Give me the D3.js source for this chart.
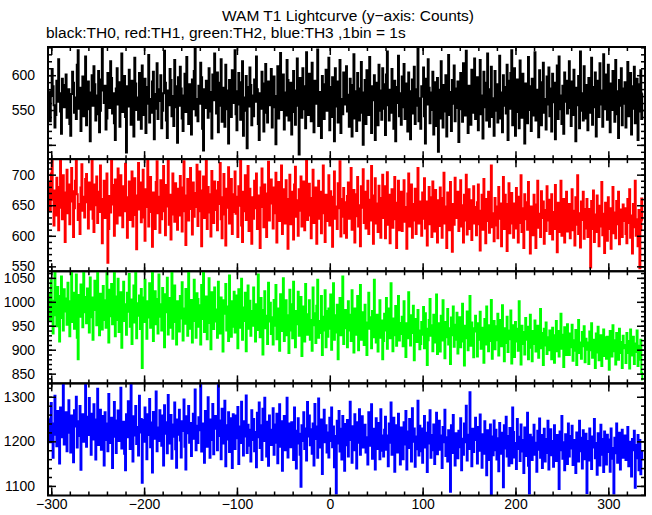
<!DOCTYPE html>
<html>
<head>
<meta charset="utf-8">
<script src="https://cdn.jsdelivr.net/npm/d3@7"></script>
<style>
html,body{margin:0;padding:0;background:#fff;}
svg{display:block;font-family:"Liberation Sans",Arial,Helvetica,sans-serif;}
</style>
</head>
<body>
<svg id="chart" width="652" height="515"></svg>
<script>
// ---- data ----
const titleText = "WAM T1 Lightcurve (y\u2212axis: Counts)";
const subtitleText = "black:TH0, red:TH1, green:TH2, blue:TH3 ,1bin = 1s";
const tStart = -302; // time of first 1 s bin
const xTicks = [-300, -200, -100, 0, 100, 200, 300];

const th0 = [
577,534,570,609,584,557,525,543,592,562,623,574,548,516,595,567,554,586,601,539,
559,580,530,513,573,605,589,546,568,537,615,636,552,582,520,563,598,541,576,627,
528,566,591,551,505,575,600,556,613,587,535,571,544,606,518,549,594,640,578,560,
585,522,538,603,569,553,620,596,545,574,531,507,581,610,558,590,526,567,631,547,
572,599,540,489,584,555,608,579,529,592,561,512,625,588,550,568,536,603,564,523,
614,576,543,595,517,559,583,629,532,566,546,591,605,508,573,552,617,537,580,563,
600,524,549,574,635,589,535,510,578,557,609,593,541,570,527,622,554,584,503,597,
556,612,581,538,520,571,602,547,626,562,530,587,575,515,594,551,606,639,542,566,
534,585,559,618,597,523,492,580,553,592,569,539,610,548,576,509,601,564,631,573,
545,604,518,556,589,623,533,567,582,526,615,578,551,502,593,572,540,607,560,596,
636,544,521,577,603,558,536,590,620,513,568,549,599,495,583,555,611,586,528,571,
541,594,562,627,580,530,507,574,552,605,588,519,566,616,546,532,591,572,557,609,
525,582,598,554,501,570,613,538,585,632,550,560,601,522,575,542,622,593,535,567,
589,515,547,606,578,529,568,624,556,486,596,573,539,610,551,584,524,633,563,543,
602,571,534,618,545,518,592,559,581,637,527,576,553,510,599,587,537,569,608,549,
562,625,521,583,540,597,574,505,610,555,591,532,579,622,517,566,544,604,558,590,
613,548,572,526,595,561,512,586,630,538,577,520,603,556,535,581,619,546,500,575,
593,530,607,568,543,626,553,517,584,564,600,507,589,573,528,615,549,578,536,610,
552,587,514,601,634,557,535,579,546,609,570,523,592,505,583,560,628,541,574,529,
598,554,616,537,562,588,519,604,577,508,571,594,545,612,530,580,556,638,534,567,
523,584,569,611,541,502,595,558,623,582,531,575,550,605,515,590,563,527,596,490,
579,538,620,573,525,586,548,600,512,568,629,543,576,520,593,559,614,534,581,553,
591,504,574,603,551,533,617,578,542,635,561,517,585,566,529,608,572,546,624,537,
557,597,521,582,622,544,571,509,605,554,589,535,631,562,526,580,612,540,567,513,
606,549,587,532,570,628,538,575,518,600,556,583,545,615,507,592,552,603,636,528,
564,610,513,577,594,547,524,621,569,539,602,559,502,588,574,531,626,550,584,520,
595,542,573,633,535,579,555,511,607,568,528,590,618,546,566,522,598,558,611,541,
581,519,602,561,589,508,576,614,537,627,551,571,530,585,516,604,562,592,545,572,
620,553,527,591,543,608,567,505,582,557,599,524,634,549,574,535,613,560,538,586,
521,596,572,546,625,529,583,554,604,512,569,592,540,617,558,578,526,630,551,568,
601,536,615,562,518,588,550,606,573,533,622,544,577,510,593,556,610,528,581,559,
590,525,578,619,541,563,603,515,584,552,612,531,571,595,507,587,548,607,537,574];

const th1 = [
688,641,702,725,659,617,674,633,695,651,609,680,725,646,627,699,662,590,671,708,
637,684,619,656,711,673,598,645,690,725,668,626,652,603,679,717,641,664,630,693,
701,655,612,687,643,669,725,628,606,684,650,697,621,672,639,715,660,588,646,690,
629,676,702,556,611,665,638,725,683,651,600,692,645,620,710,671,633,699,657,614,
681,640,718,663,597,648,689,626,672,705,615,655,694,634,578,666,719,643,687,622,
669,708,630,592,676,647,725,615,660,696,639,582,671,653,611,688,722,637,664,605,
691,627,659,714,640,601,683,648,725,618,667,594,635,702,656,623,686,649,610,677,
633,698,661,607,679,722,640,585,666,693,625,658,711,644,602,687,631,670,647,716,
616,662,705,640,583,674,697,629,655,725,611,680,638,668,599,706,650,621,689,642,
674,609,688,652,719,627,596,663,701,635,584,677,646,712,620,657,693,603,668,639,
705,636,664,598,681,649,725,617,590,672,640,699,626,655,714,608,677,641,587,663,
628,690,645,702,611,666,632,580,679,710,647,614,684,639,598,669,721,625,653,692,
661,612,679,637,703,589,650,688,624,667,715,603,644,676,620,691,634,579,660,700,
619,672,644,594,684,713,631,658,600,676,641,697,615,652,689,609,668,725,626,647,
685,633,596,662,708,621,650,679,587,643,690,628,672,604,656,715,637,590,667,624,
651,699,617,673,636,582,664,705,628,648,611,686,645,722,599,660,631,678,604,655,
597,665,687,628,654,711,610,642,675,589,668,632,696,615,650,583,681,646,709,621,
672,612,648,690,603,659,625,714,640,587,666,694,620,653,606,682,636,597,662,700,
629,681,596,650,704,618,667,588,641,676,613,659,696,627,580,654,690,609,645,672,
608,660,691,623,647,579,669,702,615,638,684,597,652,625,677,603,641,711,620,656,
645,600,671,628,694,612,656,584,637,680,619,663,598,689,641,607,675,630,589,658,
616,679,641,597,662,703,620,648,580,671,633,609,688,645,574,652,618,695,629,664,
672,608,637,691,615,650,589,667,625,700,602,645,676,611,658,593,634,681,620,647,
601,655,684,619,576,641,667,610,693,632,588,660,624,672,605,649,715,614,637,591,
662,617,648,596,680,628,653,583,640,696,611,667,629,575,652,686,604,639,670,620,
597,653,612,678,633,589,664,621,699,606,645,580,668,627,655,610,688,634,571,648,
640,601,667,622,580,651,690,613,636,598,673,629,656,587,642,608,681,625,659,603,
617,668,594,639,611,683,628,573,654,606,645,690,600,632,660,589,624,672,607,641,
652,596,630,676,609,641,584,663,618,699,603,637,581,656,626,672,595,644,612,660,
598,644,622,548,657,611,674,590,635,606,666,625,583,649,615,688,601,636,572,654,
629,592,663,611,645,579,622,680,604,638,596,657,619,672,586,643,610,598,651,624,
645,603,588,660,621,676,597,633,571,652,614,690,600,627,583,642,547,609,661,625];

const th2 = [
1018,961,1045,987,934,1002,1064,972,949,1031,995,917,1012,1053,966,940,1026,980,1007,952,
1040,973,928,1001,1064,958,1019,944,990,1057,925,880,1014,969,1036,993,947,1062,978,1010,
955,1028,997,936,1051,968,1009,921,983,1044,1006,951,1064,975,930,1017,989,942,1033,962,
1003,946,1060,984,915,1025,970,1037,953,999,1064,928,1011,962,1048,937,990,1020,904,973,
1042,960,995,931,1019,979,1058,948,1005,912,986,1034,957,1064,924,997,971,1013,943,1027,
862,1009,958,1046,983,923,1001,967,1039,946,991,1064,918,975,1022,953,1006,934,1057,969,
995,940,1029,961,905,1016,978,1050,932,989,1008,946,1064,923,970,1034,958,911,1001,976,
938,1012,965,1041,919,986,954,1027,997,929,1060,972,944,1004,915,983,1046,960,925,1018,
1006,948,993,911,1035,964,1064,937,979,1011,922,988,1049,956,901,1020,970,943,1030,959,
984,925,1042,967,934,1009,951,896,1003,975,1037,940,990,918,1055,962,927,1001,948,1021,
936,1013,958,903,1026,979,946,1048,921,988,960,1019,897,968,1034,944,1002,929,981,950,
1030,962,917,995,941,1057,973,926,1008,954,890,983,1022,945,971,912,1040,959,998,933,
968,911,1004,950,1035,922,986,961,898,1016,939,975,1049,918,957,1003,930,972,893,1025,
940,995,924,1042,967,905,981,953,1021,929,964,1010,887,946,990,917,1037,958,931,974,
1003,921,962,898,1030,951,976,914,992,1046,925,960,935,1012,889,969,940,1024,905,981,
927,986,944,1015,900,958,1039,921,972,936,994,880,951,1008,930,967,1053,912,945,983,
962,905,1001,940,973,918,1024,955,894,986,931,963,1012,899,947,1035,921,958,978,910,
994,931,889,957,1019,944,968,903,981,926,1046,949,915,973,896,937,1003,925,961,880,
918,975,940,1008,902,951,986,924,1039,958,897,965,930,991,908,947,1012,919,956,933,
969,907,1001,938,885,955,924,1020,949,909,972,935,992,878,944,964,916,983,940,901,
912,958,931,989,903,976,944,868,920,962,1006,929,951,897,973,915,940,1015,891,955,
947,896,971,919,1003,934,882,958,926,985,911,945,870,967,930,990,906,952,921,977,
892,941,968,905,932,996,917,867,950,924,980,899,936,1012,908,957,926,884,945,971,
938,886,955,921,979,902,946,925,873,964,911,990,930,897,951,918,1004,881,935,960,
901,949,920,975,888,936,962,907,993,928,876,945,914,969,895,940,922,982,871,951,
930,885,958,917,944,898,1001,925,869,950,912,937,890,966,921,948,880,917,973,904,
876,939,912,961,896,927,950,883,918,985,903,935,868,944,909,957,891,926,899,940,
922,880,946,908,873,930,960,897,939,886,916,975,902,931,864,947,912,889,953,918,
889,934,905,952,877,920,898,941,868,926,962,893,915,881,937,907,949,874,923,900,
915,870,938,899,955,883,921,907,862,934,894,948,878,911,930,866,906,942,887,926,
881,927,900,858,939,912,886,951,897,920,869,935,908,879,944,893,916,862,929,903,
910,872,935,893,918,861,942,888,904,927,870,913,895,940,866,908,879,921,852,838];

const th3 = [
1251,1198,1286,1227,1163,1240,1302,1215,1189,1268,1234,1150,1276,1209,1247,1330,1193,1224,1265,1178,
1219,1292,1241,1175,1258,1207,1153,1270,1233,1300,1186,1245,1212,1279,1136,1228,1261,1199,1243,1330,
1188,1255,1214,1297,1236,1170,1262,1204,1283,1225,1159,1249,1318,1192,1230,1271,1181,1216,1257,1146,
1265,1203,1240,1178,1306,1231,1196,1253,1140,1222,1288,1210,1174,1247,1269,1201,1235,1320,1184,1218,
1244,1172,1135,1261,1209,1290,1227,1183,1330,1238,1155,1256,1213,1279,1194,1232,1168,1302,1220,1250,
1107,1248,1199,1276,1228,1160,1261,1214,1295,1187,1242,1130,1266,1206,1253,1312,1178,1231,1201,1270,
1233,1190,1258,1146,1281,1217,1243,1173,1304,1226,1195,1259,1161,1238,1210,1287,1182,1141,1249,1215,
1271,1202,1164,1245,1223,1294,1188,1137,1256,1218,1279,1197,1241,1167,1230,1262,1206,1316,1180,1235,
1196,1254,1225,1330,1177,1240,1209,1152,1268,1221,1188,1299,1235,1163,1249,1203,1284,1171,1228,1257,
1239,1180,1328,1212,1247,1160,1273,1229,1195,1291,1144,1236,1204,1265,1176,1252,1218,1140,1261,1199,
1183,1258,1207,1277,1149,1233,1196,1289,1219,1168,1245,1211,1303,1174,1237,1190,1226,1155,1270,1203,
1250,1178,1221,1142,1264,1209,1287,1185,1236,1158,1273,1201,1298,1227,1166,1244,1145,1258,1215,1192,
1226,1274,1170,1238,1197,1262,1151,1220,1283,1188,1245,1134,1209,1257,1180,1231,1298,1164,1240,1203,
1187,1243,1212,1158,1276,1224,1139,1195,1252,1217,1170,1098,1236,1201,1265,1183,1229,1157,1288,1211,
1258,1191,1227,1172,1240,1146,1284,1205,1233,1163,1296,1218,1186,1249,1127,1215,1271,1198,1236,1175,
1220,1164,1253,1201,1276,1187,1233,1142,1212,1083,1246,1195,1268,1177,1228,1159,1257,1206,1134,1239,
1191,1248,1166,1225,1289,1203,1152,1234,1180,1261,1214,1139,1243,1197,1272,1170,1222,1256,1186,1210,
1237,1175,1209,1148,1265,1219,1190,1283,1161,1228,1204,1137,1252,1183,1241,1196,1160,1272,1213,1179,
1166,1226,1255,1181,1213,1144,1240,1197,1287,1170,1218,1253,1132,1204,1236,1175,1262,1191,1148,1231,
1210,1160,1243,1193,1268,1137,1222,1185,1250,1206,1155,1274,1199,1229,1143,1211,1182,1291,1168,1235,
1178,1229,1152,1207,1257,1186,1219,1131,1242,1195,1270,1163,1214,1180,1238,1149,1202,1264,1171,1221,
1246,1181,1213,1140,1232,1198,1271,1167,1209,1155,1225,1190,1087,1236,1174,1259,1203,1146,1218,1185,
1162,1224,1187,1252,1135,1206,1170,1240,1198,1280,1157,1215,1183,1310,1192,1144,1228,1176,1209,1253,
1203,1150,1232,1179,1260,1193,1141,1216,1172,1245,1187,1124,1225,1200,1158,1238,1081,1211,1169,1247,
1180,1226,1159,1207,1133,1241,1194,1172,1219,1097,1236,1184,1255,1166,1212,1145,1230,1190,1151,1276,
1221,1164,1196,1138,1250,1183,1210,1156,1238,1177,1203,1129,1231,1192,1167,1264,1145,1083,1215,1186,
1158,1209,1237,1170,1197,1132,1224,1181,1251,1163,1214,1140,1190,1228,1155,1205,1174,1246,1137,1199,
1227,1169,1201,1143,1236,1188,1156,1214,1175,1093,1222,1180,1257,1161,1198,1135,1216,1186,1149,1240,
1166,1212,1184,1235,1147,1203,1171,1129,1220,1192,1155,1246,1178,1208,1139,1225,1160,1199,1217,1084,
1201,1157,1229,1174,1138,1211,1186,1250,1162,1196,1125,1218,1183,1146,1237,1170,1205,1131,1222,1189,
1148,1215,1176,1204,1132,1229,1185,1161,1083,1208,1173,1240,1152,1196,1219,1137,1183,1226,1163,1200,
1213,1158,1187,1232,1144,1199,1170,1121,1205,1180,1224,1096,1192,1162,1214,1135,1203,1126,1178,1160];

const seriesList = [th0, th1, th2, th3];
const seriesColors = ["#000000", "#ff0000", "#00ff00", "#0000ff"];
const yDomains = [[479.5, 640.5], [542, 725.4], [829.7, 1063.8], [1078.5, 1330]];
const yMajor = [[500, 550, 600], [550, 600, 650, 700], [850, 900, 950, 1000, 1050], [1100, 1200, 1300]];
const yLabels = [[550, 600], [550, 600, 650, 700], [850, 900, 950, 1000, 1050], [1100, 1200, 1300]];
const yMinorStep = [10, 10, 10, 20];

// ---- layout ----
const svg = d3.select("#chart");
const pLeft = 48, pRight = 645, pTop = 47, pBottom = 495.5;
const ph = (pBottom - pTop) / 4;
const x = d3.scaleLinear().domain([-303.5, 339.5]).range([pLeft, pRight]);
const xMinor = d3.range(-300, 340, 20);
const font = 14;

svg.append("text").attr("x", 348).attr("y", 21).attr("text-anchor", "middle")
  .attr("font-size", 15.5).text(titleText);
svg.append("text").attr("x", 46).attr("y", 37.5).attr("text-anchor", "start")
  .attr("font-size", 15.5).text(subtitleText);

const defs = svg.append("defs");

seriesList.forEach((data, i) => {
  const y0 = pTop + i * ph, y1 = y0 + ph;
  const y = d3.scaleLinear().domain(yDomains[i]).range([y1, y0]);
  const g = svg.append("g");
  const cid = "clip" + i;
  defs.append("clipPath").attr("id", cid)
    .append("rect").attr("x", pLeft).attr("y", y0).attr("width", pRight - pLeft).attr("height", ph);

  const line = d3.line().x((d, k) => x(tStart + k)).y(d => y(d)).curve(d3.curveStep);
  g.append("path").datum(data).attr("d", line).attr("fill", "none")
    .attr("stroke", seriesColors[i]).attr("stroke-width", 2).attr("clip-path", `url(#${cid})`);

  const minors = d3.range(Math.ceil(yDomains[i][0] / yMinorStep[i]) * yMinorStep[i], yDomains[i][1], yMinorStep[i]);
  const fmt = d => yLabels[i].includes(d) ? String(d) : "";
  const la = g.append("g").attr("transform", `translate(${pLeft},0)`);
  la.call(d3.axisLeft(y).tickValues(minors).tickSize(-4).tickFormat(""));
  la.append("g").call(d3.axisLeft(y).tickValues(yMajor[i]).tickSize(-8).tickPadding(13).tickFormat(fmt));
  const ra = g.append("g").attr("transform", `translate(${pRight},0)`);
  ra.call(d3.axisRight(y).tickValues(minors).tickSize(-4).tickFormat(""));
  ra.append("g").call(d3.axisRight(y).tickValues(yMajor[i]).tickSize(-8).tickFormat(""));
  const ta = g.append("g").attr("transform", `translate(0,${y0})`);
  ta.call(d3.axisTop(x).tickValues(xMinor).tickSize(-4).tickFormat(""));
  ta.append("g").call(d3.axisTop(x).tickValues(xTicks).tickSize(-8).tickFormat(""));
  const ba = g.append("g").attr("transform", `translate(0,${y1})`);
  ba.call(d3.axisBottom(x).tickValues(xMinor).tickSize(-4).tickFormat(""));
  ba.append("g").call(d3.axisBottom(x).tickValues(xTicks).tickSize(-8).tickPadding(4)
    .tickFormat(i === 3 ? (d => String(d).replace("-", "\u2212")) : ""));

  g.selectAll(".domain").remove();
  g.selectAll(".tick line").attr("stroke", "#000").attr("stroke-width", 1.5);
  g.selectAll(".tick text").attr("font-size", font).attr("fill", "#000")
    .attr("font-family", '"Liberation Sans",Arial,Helvetica,sans-serif');
  g.append("rect").attr("x", pLeft).attr("y", y0).attr("width", pRight - pLeft).attr("height", ph)
    .attr("fill", "none").attr("stroke", "#000").attr("stroke-width", 2);
});
</script>
</body>
</html>
